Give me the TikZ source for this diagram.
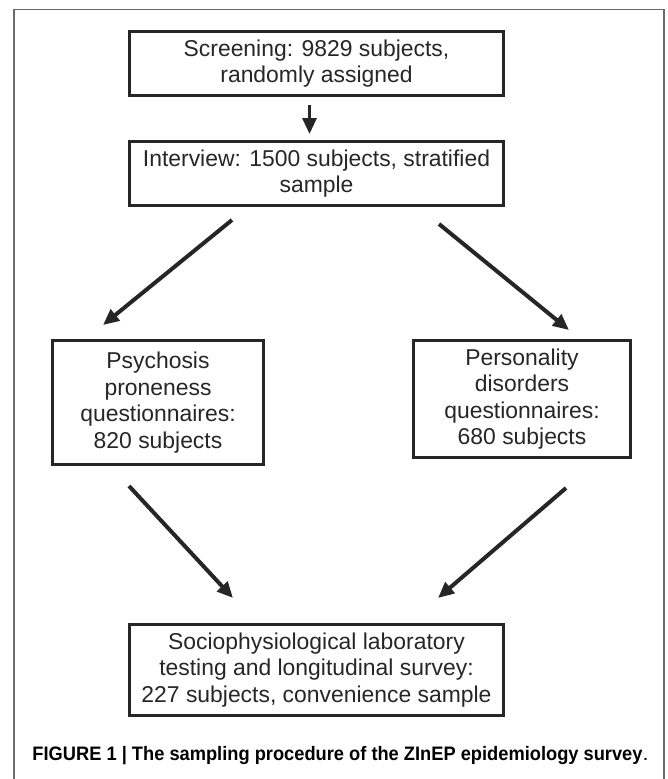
\documentclass[tikz,border=0pt]{standalone}
\usepackage{fontspec}
\setmainfont{Liberation Sans}
\usetikzlibrary{arrows.meta}
\definecolor{ink}{HTML}{262626}
\definecolor{framegray}{HTML}{6A6A6A}
\tikzset{
  stagebox/.style={draw=ink, line width=3pt, inner sep=0pt, align=center,
    text=ink, font=\fontsize{22.9}{26.5}\selectfont},
  flowarrow/.style={draw=ink, line width=4pt,
    -{Triangle[length=16pt,width=14pt]}},
}
\begin{document}
\begin{tikzpicture}[x=1pt,y=-1pt]
\useasboundingbox (0,0) rectangle (668,779);
\draw[framegray, line width=1.5pt] (14,780) -- (14,9.5) -- (664,9.5) -- (664,780);

\node[stagebox, minimum width=374pt, minimum height=64pt] (screen) at (316.5,63.5)
  {Screening: 9829 subjects,\\randomly assigned};
\node[stagebox, minimum width=374pt, minimum height=64pt] (interview) at (316.5,173.5)
  {Interview: 1500 subjects, stratified\\sample};
\node[stagebox, minimum width=211pt, minimum height=124pt] (psych) at (158,402.5)
  {Psychosis\\proneness\\questionnaires:\\820 subjects};
\node[stagebox, minimum width=217pt, minimum height=117pt] (pers) at (522,399)
  {Personality\\disorders\\questionnaires:\\680 subjects};
\node[stagebox, minimum width=374pt, minimum height=91pt] (lab) at (316.5,670)
  {Sociophysiological laboratory\\testing and longitudinal survey:\\227 subjects, convenience sample};

\coordinate (a1s) at (309.5,105);
\coordinate (a1e) at (309.5,134);
\coordinate (a2s) at (232,220);
\coordinate (a2e) at (103,325);
\coordinate (a3s) at (439,224);
\coordinate (a3e) at (569,330);
\coordinate (a4s) at (129,486);
\coordinate (a4e) at (233,598);
\coordinate (a5s) at (566,488);
\coordinate (a5e) at (438,598);

\draw[flowarrow, line width=3.2pt] (a1s) -- (a1e);
\draw[flowarrow] (a2s) -- (a2e);
\draw[flowarrow] (a3s) -- (a3e);
\draw[flowarrow] (a4s) -- (a4e);
\draw[flowarrow] (a5s) -- (a5e);

\node[inner sep=0pt, text=black, font=\fontsize{19.5}{24}\selectfont, anchor=center] (caption) at (340.5,756)
  {\resizebox{610pt}{\height}{\bfseries FIGURE 1 | The sampling procedure of the ZInEP epidemiology survey}\resizebox{6pt}{\height}{.}};
\end{tikzpicture}
\end{document}
